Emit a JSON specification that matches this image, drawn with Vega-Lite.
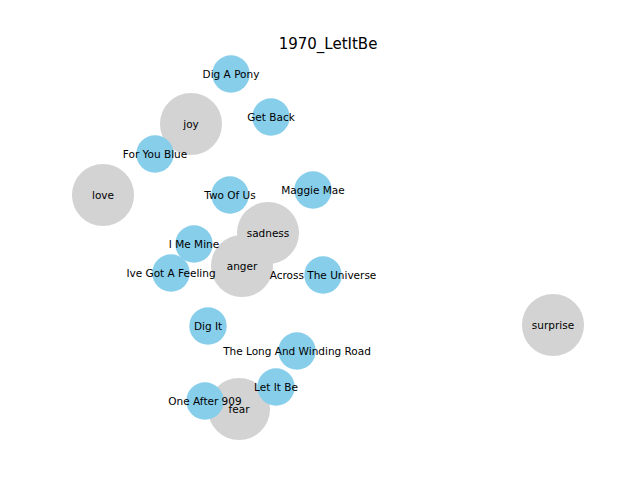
{
  "$schema": "https://vega.github.io/schema/vega-lite/v6.json",
  "width": 640,
  "height": 480,
  "padding": 0,
  "autosize": {"type": "none"},
  "background": "white",
  "config": {"view": {"stroke": null}},
  "title": {"text": "1970_LetItBe", "font": "DejaVu Sans", "fontSize": 15, "fontWeight": "normal", "anchor": "middle", "dx": 8, "offset": -52, "color": "black"},
  "data": {"values": [
    {"name": "joy", "kind": "emotion", "x": 191, "y": 124},
    {"name": "love", "kind": "emotion", "x": 103, "y": 195},
    {"name": "sadness", "kind": "emotion", "x": 268, "y": 233},
    {"name": "anger", "kind": "emotion", "x": 242, "y": 266},
    {"name": "surprise", "kind": "emotion", "x": 553, "y": 325},
    {"name": "fear", "kind": "emotion", "x": 239, "y": 409},
    {"name": "Dig A Pony", "kind": "song", "x": 231, "y": 74},
    {"name": "Get Back", "kind": "song", "x": 271, "y": 117},
    {"name": "For You Blue", "kind": "song", "x": 155, "y": 154},
    {"name": "Two Of Us", "kind": "song", "x": 230, "y": 195},
    {"name": "Maggie Mae", "kind": "song", "x": 313, "y": 190},
    {"name": "I Me Mine", "kind": "song", "x": 194, "y": 244},
    {"name": "Ive Got A Feeling", "kind": "song", "x": 171, "y": 273},
    {"name": "Across The Universe", "kind": "song", "x": 323, "y": 275},
    {"name": "Dig It", "kind": "song", "x": 208, "y": 326},
    {"name": "The Long And Winding Road", "kind": "song", "x": 297, "y": 351},
    {"name": "Let It Be", "kind": "song", "x": 276, "y": 387},
    {"name": "One After 909", "kind": "song", "x": 205, "y": 401}
  ]},
  "encoding": {
    "x": {"field": "x", "type": "quantitative", "scale": {"domain": [0, 640], "nice": false, "zero": false}, "axis": null},
    "y": {"field": "y", "type": "quantitative", "scale": {"domain": [0, 480], "reverse": true, "nice": false, "zero": false}, "axis": null}
  },
  "layer": [
    {
      "mark": {"type": "circle", "opacity": 1},
      "encoding": {
        "color": {"field": "kind", "type": "nominal", "scale": {"domain": ["emotion", "song"], "range": ["#d3d3d3", "#87ceeb"]}, "legend": null},
        "size": {"field": "kind", "type": "nominal", "scale": {"domain": ["emotion", "song"], "range": [3850, 1400]}, "legend": null},
        "order": {"field": "kind", "sort": "ascending"}
      }
    },
    {
      "mark": {"type": "text", "font": "DejaVu Sans", "fontSize": 10.5, "color": "black", "baseline": "middle", "align": "center", "dy": 1},
      "encoding": {"text": {"field": "name"}}
    }
  ]
}
